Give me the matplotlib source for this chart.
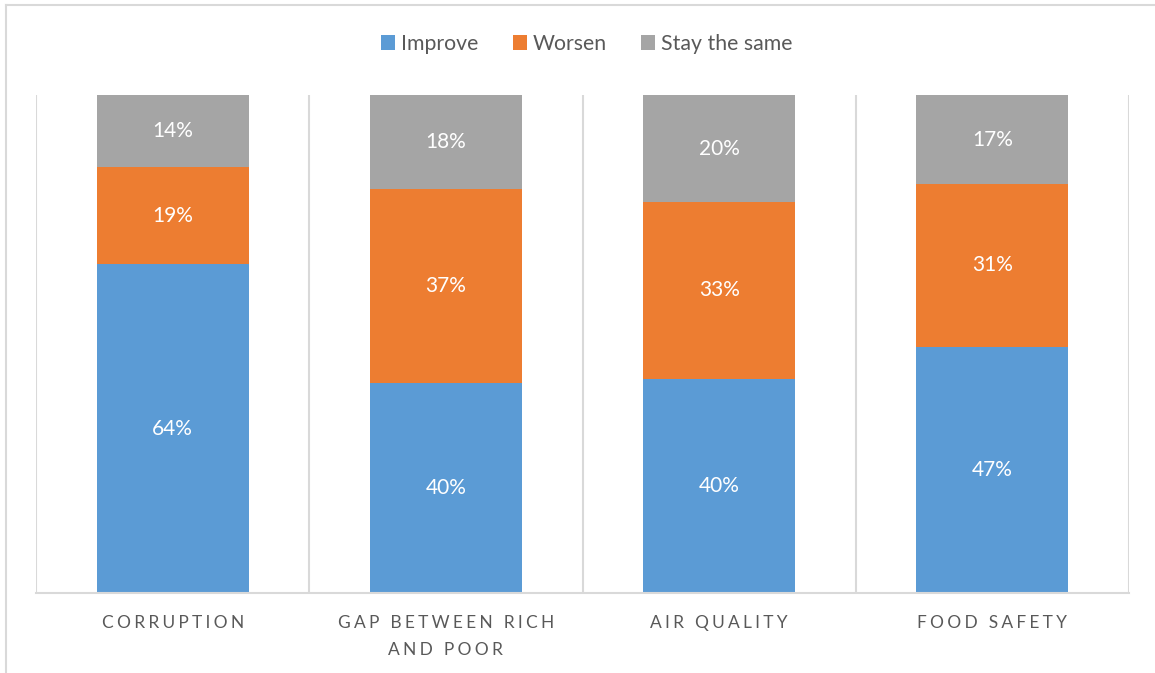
import matplotlib
matplotlib.use("Agg")
import matplotlib.pyplot as plt
from matplotlib.lines import Line2D
import numpy as np

categories = ["CORRUPTION", "GAP BETWEEN RICH\nAND POOR", "AIR QUALITY", "FOOD SAFETY"]
series_names = ["Improve", "Worsen", "Stay the same"]
improve = [64, 40, 40, 47]
worsen = [19, 37, 33, 31]
same = [14, 18, 20, 17]
colors = ["#5B9BD5", "#ED7D31", "#A5A5A5"]

W, H = 1155, 673
fig = plt.figure(figsize=(W / 100, H / 100), dpi=100)
FONT = ["Lato", "DejaVu Sans"]

ax = fig.add_axes([36 / W, (H - 593) / H, (1129 - 36) / W, (593 - 95) / H])

vals = np.array([improve, worsen, same], dtype=float)
totals = vals.sum(axis=0)
shares = vals / totals  # 100% stacked
x = np.arange(len(categories))
bottom = np.zeros(len(categories))
for i, name in enumerate(series_names):
    ax.bar(x, shares[i], width=0.557, bottom=bottom, color=colors[i], label=name, zorder=2)
    for j in range(len(categories)):
        ax.text(x[j], bottom[j] + shares[i][j] / 2, f"{int(vals[i][j])}%", ha="center", va="center",
                color="white", fontsize=15, family=FONT, zorder=3)
    bottom += shares[i]

ax.set_xlim(-0.5, len(categories) - 0.5)
ax.set_ylim(0, 1)
for b in np.arange(-0.5, len(categories), 1.0):
    ax.axvline(b, color="#D9D9D9", lw=1.5, zorder=1)
for s in ["top", "left", "right"]:
    ax.spines[s].set_visible(False)
ax.spines["bottom"].set_color("#D9D9D9")
ax.spines["bottom"].set_linewidth(1.5)
ax.set_yticks([])
ax.set_xticks(x)
sep = "\u2009\u200a"
spaced = ["\n".join(sep.join(list(line)) for line in c.split("\n")) for c in categories]
ax.set_xticklabels(spaced, fontsize=12.5, color="#595959", family=FONT, linespacing=1.9)
ax.tick_params(axis="x", length=0, pad=15.5)

leg = fig.legend(loc="center", bbox_to_anchor=(587 / W, 1 - 44 / H), ncol=3, frameon=False,
                 prop={"family": FONT, "size": 15.3}, handlelength=0.65, handleheight=0.65,
                 handletextpad=0.3, columnspacing=1.6, labelcolor="#595959")

# outer chart border (partially cropped)
fig.add_artist(Line2D([6 / W, 6 / W], [0, 1 - 5 / H], transform=fig.transFigure, color="#D9D9D9", lw=1.5))
fig.add_artist(Line2D([6 / W, 1], [1 - 5 / H, 1 - 5 / H], transform=fig.transFigure, color="#D9D9D9", lw=1.5))

fig.savefig("out.png", dpi=100, facecolor="white")
